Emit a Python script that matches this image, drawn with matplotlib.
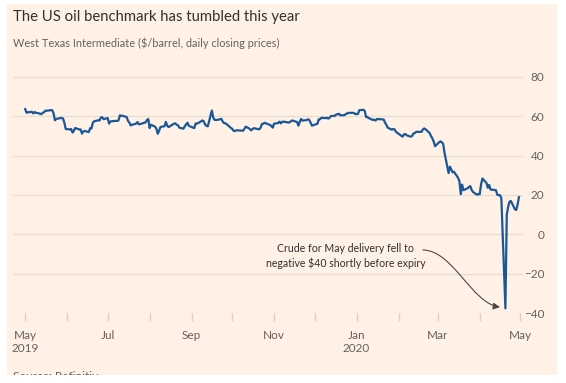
import numpy as np
import pandas as pd
import matplotlib
matplotlib.use('Agg')
import matplotlib.pyplot as plt
import matplotlib.dates as mdates
from matplotlib.patches import FancyArrowPatch, Rectangle
from matplotlib.path import Path

# WTI daily closes (May 2019 - Apr 2020)
days_2019 = ("05-01 05-02 05-03 05-06 05-07 05-08 05-09 05-10 05-13 05-14 05-15 05-16 05-17 05-20 05-21 "
             "05-22 05-23 05-24 05-28 05-29 05-30 05-31 06-03 06-04 06-05 06-06 06-07 06-10 06-11 06-12 "
             "06-13 06-14 06-17 06-18 06-19 06-20 06-21 06-24 06-25 06-26 06-27 06-28 07-01 07-02 07-03 "
             "07-05 07-08 07-09 07-10 07-11 07-12 07-15 07-16 07-17 07-18 07-19 07-22 07-23 07-24 07-25 "
             "07-26 07-29 07-30 07-31 08-01 08-02 08-05 08-06 08-07 08-08 08-09 08-12 08-13 08-14 08-15 "
             "08-16 08-19 08-20 08-21 08-22 08-23 08-26 08-27 08-28 08-29 08-30 09-03 09-04 09-05 09-06 "
             "09-09 09-10 09-11 09-12 09-13 09-16 09-17 09-18 09-19 09-20 09-23 09-24 09-25 09-26 09-27 "
             "09-30 10-01 10-02 10-03 10-04 10-07 10-08 10-09 10-10 10-11 10-14 10-15 10-16 10-17 10-18 "
             "10-21 10-22 10-23 10-24 10-25 10-28 10-29 10-30 10-31 11-01 11-04 11-05 11-06 11-07 11-08 "
             "11-11 11-12 11-13 11-14 11-15 11-18 11-19 11-20 11-21 11-22 11-25 11-26 11-27 11-29 12-02 "
             "12-03 12-04 12-05 12-06 12-09 12-10 12-11 12-12 12-13 12-16 12-17 12-18 12-19 12-20 12-23 "
             "12-24 12-26 12-27 12-30 12-31").split()
close_2019 = [63.60, 61.81, 61.94, 62.25, 61.40, 62.12, 61.70, 61.66, 61.04, 61.78, 62.02, 62.87, 62.76, 63.10, 62.99,
              61.42, 57.91, 58.63, 59.14, 58.81, 56.59, 53.50, 53.25, 53.48, 51.68, 52.59, 53.99, 53.26, 53.27, 51.14,
              52.28, 52.51, 51.93, 53.90, 53.76, 56.65, 57.43, 57.90, 57.83, 59.38, 59.43, 58.47, 59.09, 56.25, 57.34,
              57.51, 57.66, 57.83, 60.43, 60.20, 60.21, 59.58, 57.62, 56.78, 55.30, 55.63, 56.22, 57.03, 55.88, 56.02,
              56.20, 56.87, 58.05, 58.58, 53.95, 55.66, 54.69, 53.63, 51.09, 52.54, 54.50, 54.93, 57.10, 55.23, 54.47,
              54.87, 56.21, 56.34, 55.68, 55.35, 54.17, 53.64, 54.93, 55.78, 56.71, 55.10, 53.94, 56.26, 56.30, 56.52,
              57.85, 57.40, 55.75, 55.09, 54.85, 62.90, 59.34, 58.11, 58.13, 58.09, 58.64, 57.29, 56.49, 56.41, 55.91,
              54.07, 53.62, 52.64, 52.45, 52.81, 52.75, 52.63, 52.59, 53.55, 54.70, 53.59, 52.81, 53.36, 53.93, 53.78,
              53.31, 54.16, 55.97, 56.23, 56.66, 55.81, 55.54, 55.06, 54.18, 56.20, 56.54, 57.23, 56.35, 57.15, 57.24,
              56.86, 56.80, 57.12, 57.77, 57.72, 57.05, 55.21, 57.11, 58.58, 57.77, 58.01, 58.41, 58.11, 55.17, 55.96,
              56.10, 58.43, 58.43, 59.20, 59.02, 59.24, 58.76, 59.18, 60.07, 60.21, 60.94, 60.93, 61.22, 60.44, 60.52,
              61.11, 61.68, 61.72, 61.68, 61.06]

days_2020 = ("01-02 01-03 01-06 01-07 01-08 01-09 01-10 01-13 01-14 01-15 01-16 01-17 01-21 01-22 01-23 "
             "01-24 01-27 01-28 01-29 01-30 01-31 02-03 02-04 02-05 02-06 02-07 02-10 02-11 02-12 02-13 "
             "02-14 02-18 02-19 02-20 02-21 02-24 02-25 02-26 02-27 02-28 03-02 03-03 03-04 03-05 03-06 "
             "03-09 03-10 03-11 03-12 03-13 03-16 03-17 03-18 03-19 03-20 03-23 03-24 03-25 03-26 03-27 "
             "03-30 03-31 04-01 04-02 04-03 04-06 04-07 04-08 04-09 04-13 04-14 04-15 04-16 04-17 04-20 "
             "04-21 04-22 04-23 04-24 04-27 04-28 04-29 04-30").split()
close_2020 = [61.18, 63.05, 63.27, 62.70, 59.61, 59.56, 59.04, 58.08, 58.23, 57.81, 58.52, 58.54, 58.34, 56.74, 55.59,
              54.19, 53.14, 53.48, 53.33, 52.14, 51.56, 50.11, 49.61, 50.75, 50.95, 50.32, 49.57, 49.94, 51.17, 51.42,
              52.05, 52.05, 53.29, 53.78, 53.38, 51.43, 49.90, 48.73, 47.09, 44.76, 46.75, 47.18, 46.78, 45.90, 41.28,
              31.13, 34.36, 32.98, 31.50, 31.73, 28.70, 26.95, 20.37, 25.22, 22.43, 23.36, 24.01, 24.49, 22.60, 21.51,
              20.09, 20.48, 20.31, 25.32, 28.34, 26.08, 23.63, 25.09, 22.76, 22.41, 20.11, 19.87, 19.87, 18.27, -37.63,
              10.01, 13.78, 16.50, 16.94, 12.78, 12.34, 15.06, 18.84]

y_ticks = [-40, -20, 0, 20, 40, 60, 80]

title = "The US oil benchmark has tumbled this year"
subtitle = "West Texas Intermediate ($/barrel, daily closing prices)"
note = "Crude for May delivery fell to\nnegative $40 shortly before expiry"
source = "Source: Refinitiv"

dates = pd.to_datetime(["2019-" + d for d in days_2019] + ["2020-" + d for d in days_2020])
prices = np.array(close_2019 + close_2020)

pink = '#fff1e5'
grid_col = '#e9ddd2'
text_grey = '#66605c'
line_blue = '#1a5797'

plt.rcParams['font.family'] = ['Lato', 'DejaVu Sans']

fig = plt.figure(figsize=(5.66, 3.83), dpi=100, facecolor='white')
# pink panel of the FT graphic (screenshot crops it at the bottom)
fig.patches.append(Rectangle((7 / 566, 8 / 383), 550 / 566, 371 / 383, transform=fig.transFigure,
                             facecolor=pink, edgecolor='none', zorder=-10))

ax = fig.add_axes([13 / 566, 70 / 383, 510 / 566, 246 / 383])
ax.set_facecolor(pink)
ax.plot(dates, prices, color=line_blue, lw=1.6, solid_joinstyle='round', zorder=3)

ax.set_xlim(pd.Timestamp('2019-04-22'), pd.Timestamp('2020-05-03'))
ax.set_ylim(-40, 85)
ax.set_yticks(y_ticks)
ax.yaxis.tick_right()
ax.tick_params(axis='y', length=0, pad=15.5, labelsize=8.5, labelcolor=text_grey)
for lab in ax.get_yticklabels():
    lab.set_ha('right')
ax.grid(axis='y', color=grid_col, lw=1)
ax.set_axisbelow(True)

ax.xaxis.set_major_locator(mdates.MonthLocator(bymonth=[1, 3, 5, 7, 9, 11]))
ax.xaxis.set_minor_locator(mdates.MonthLocator())


def month_label(x, pos):
    d = mdates.num2date(x)
    if (d.year == 2019 and d.month == 5) or d.month == 1:
        return d.strftime('%b\n%Y')
    return d.strftime('%b')


ax.xaxis.set_major_formatter(plt.FuncFormatter(month_label))
ax.tick_params(axis='x', which='both', length=6, width=1, color='#dcd0c5',
               labelsize=8.5, labelcolor=text_grey, pad=6.5)
for s in ax.spines.values():
    s.set_visible(False)

# annotation for the negative price
ax.text(pd.Timestamp('2019-12-24'), -11, note, ha='center', va='center', fontsize=7.6,
        color='#33302e', linespacing=1.4)
p0 = (mdates.date2num(pd.Timestamp('2020-02-19')), -8)
p1 = (mdates.date2num(pd.Timestamp('2020-03-12')), -8)
p2 = (mdates.date2num(pd.Timestamp('2020-03-26')), -35)
p3 = (mdates.date2num(pd.Timestamp('2020-04-16')), -37)
arrow_path = Path([p0, p1, p2, p3], [Path.MOVETO, Path.CURVE4, Path.CURVE4, Path.CURVE4])
ax.add_patch(FancyArrowPatch(path=arrow_path, arrowstyle='-|>,head_length=4,head_width=2',
                             color='#4d4845', lw=0.8, zorder=4))

fig.text(13 / 566, 1 - 17 / 383, title, fontsize=10.7, color='#33302e', va='center')
fig.text(13 / 566, 1 - 43 / 383, subtitle, fontsize=7.9, color=text_grey, va='center')
fig.text(13 / 566, 1 - 377 / 383, source, fontsize=8.5, color=text_grey, va='center')
fig.patches.append(Rectangle((0, 0), 1, 8 / 383, transform=fig.transFigure,
                             facecolor='white', edgecolor='none', zorder=10))

fig.savefig('out.png', dpi=100, facecolor='white')
